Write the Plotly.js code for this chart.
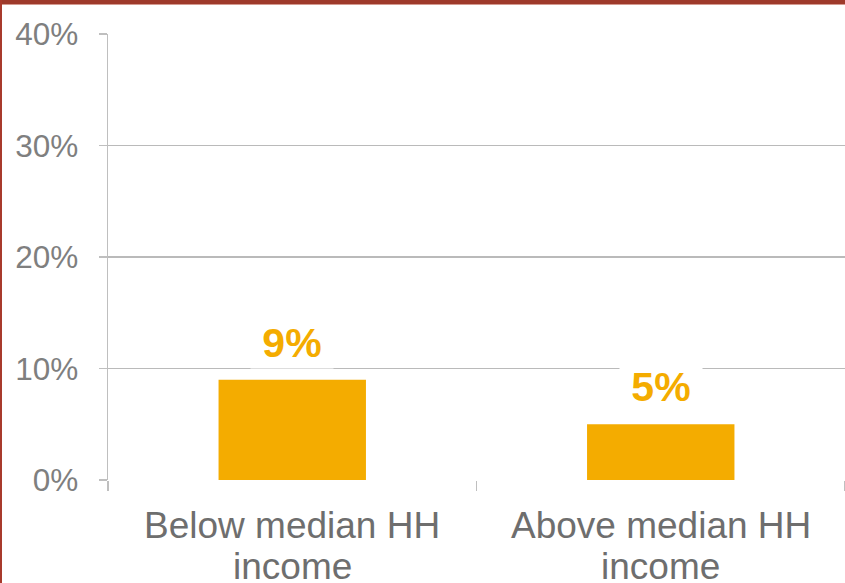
<!DOCTYPE html>
<html>
<head>
<meta charset="utf-8">
<script src="https://cdn.plot.ly/plotly-3.0.1.min.js"></script>
<style>
html,body{margin:0;padding:0;background:#fff;}
#wrap{position:relative;width:845px;height:583px;overflow:hidden;}
#chart{position:absolute;left:0;top:0;width:845px;height:583px;}
#btop{position:absolute;left:0;top:0;width:845px;height:4px;background:#9E3A2B;border-bottom:1px solid #D49A90;}
#bleft{position:absolute;left:0;top:0;width:2px;height:583px;background:#A83A2C;}
</style>
</head>
<body>
<div id="wrap"><div id="chart"></div><div id="btop"></div><div id="bleft"></div></div>
<script>
const categories = ["Below median HH<br>income", "Above median HH<br>income"];
const values = [0.09, 0.05];
const valueLabels = ["9%", "5%"];
const yTickVals = [0, 0.1, 0.2, 0.3, 0.4];
const yTickText = ["0%", "10%", "20%", "30%", "40%"];

const orange = "#F4AC00";
const fontFam = "Liberation Sans, Arial, sans-serif";

const annotations = [];
categories.forEach((c, i) => {
  annotations.push({
    x: i, y: values[i], xref: "x", yref: "y",
    text: "<b>" + valueLabels[i] + "</b>",
    showarrow: false, yanchor: "bottom", yshift: 11,
    font: {family: fontFam, size: 41, color: orange},
    bgcolor: "#ffffff", borderpad: 2, width: 78
  });
  const lines = c.split("<br>");
  lines.forEach((ln, j) => {
    annotations.push({
      x: i, y: 0, xref: "x", yref: "paper",
      text: ln, showarrow: false, yanchor: "top",
      yshift: -23 - j * 41,
      font: {family: fontFam, size: 37, color: "#6E6E6E"}
    });
  });
});

const trace = {
  type: "bar",
  x: [0, 1],
  y: values,
  width: 0.4,
  marker: {color: orange},
  hoverinfo: "skip"
};

const layout = {
  width: 845, height: 583,
  margin: {l: 108, r: 0, t: 34, b: 103},
  paper_bgcolor: "#ffffff", plot_bgcolor: "#ffffff",
  showlegend: false,
  font: {family: fontFam},
  xaxis: {
    range: [-0.5, 1.5], tickvals: [-0.5, 0.5, 1.5], showticklabels: false,
    ticks: "outside", ticklen: 10, tickcolor: "#BFBFBF", tickwidth: 1.5,
    showgrid: false, zeroline: false, showline: false, fixedrange: true
  },
  yaxis: {
    range: [0, 0.4], tickvals: yTickVals, ticktext: yTickText,
    ticks: "outside", ticklen: 8, tickcolor: "#BFBFBF", tickwidth: 1.5,
    ticklabelstandoff: 14,
    tickfont: {family: fontFam, size: 31.5, color: "#7F7F7F"},
    showgrid: true, gridcolor: "#BABABA", gridwidth: 1.5,
    showline: true, linecolor: "#BFBFBF", linewidth: 1.5,
    zeroline: false, fixedrange: true
  },
  annotations: annotations
};

Plotly.newPlot("chart", [trace], layout, {displayModeBar: false, staticPlot: true});
</script>
</body>
</html>
